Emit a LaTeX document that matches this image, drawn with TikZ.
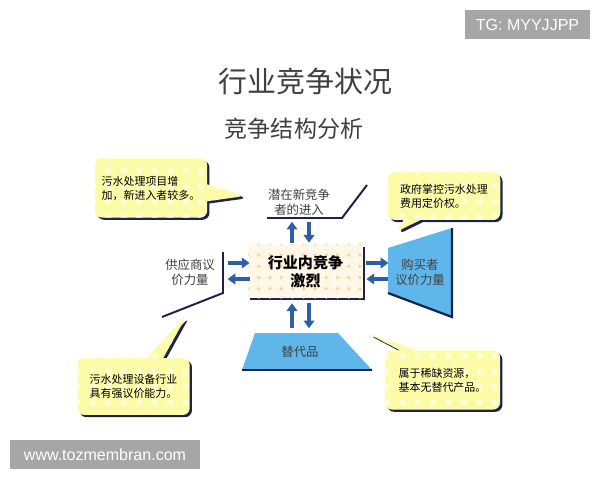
\documentclass[tikz,border=0pt]{standalone}
\usepackage{fontspec}
\newfontfamily\cjk{Noto Sans CJK SC}
\newfontfamily\wmfont{Liberation Sans}
\usetikzlibrary{arrows.meta,shapes.callouts,shadows,patterns.meta}
\definecolor{skyfill}{RGB}{95,182,234}
\definecolor{navyedge}{RGB}{25,35,75}
\definecolor{notefill}{RGB}{252,252,168}
\definecolor{notedot}{RGB}{255,255,212}
\definecolor{corefill}{RGB}{255,247,232}
\definecolor{coredot}{RGB}{247,212,160}
\definecolor{flowblue}{RGB}{45,95,165}
\definecolor{markgray}{RGB}{166,166,166}

\begin{document}
\begin{tikzpicture}[
    x=0.025cm, y=-0.025cm,
    note/.style={rectangle callout, rounded corners=5pt, callout pointer width=12pt,
      minimum width=80pt, minimum height=42pt, inner sep=3pt, align=left,
      drop shadow={shadow xshift=1.6pt, shadow yshift=-1.6pt, fill=navyedge, opacity=1},
      preaction={fill=notefill}, pattern={Dots[distance=11pt, radius=2.4pt]},
      pattern color=notedot, font=\cjk\fontsize{7.8}{10}\selectfont},
    core/.style={rectangle, minimum width=82pt, minimum height=37.7pt, align=center,
      drop shadow={shadow xshift=1.3pt, shadow yshift=-1.3pt, fill=navyedge, opacity=1},
      preaction={fill=corefill}, pattern={Dots[distance=8pt, radius=1.3pt]},
      pattern color=coredot, font=\cjk\bfseries\fontsize{10.7}{13}\selectfont},
    sidetext/.style={align=center, text=black!75, font=\cjk\fontsize{8.8}{10.7}\selectfont},
    edgeline/.style={draw=navyedge, line width=1.4pt},
    arrow/.style={-{Triangle[length=5.5pt, width=7.5pt]}, line width=2.6pt, draw=flowblue},
    tagbox/.style={fill=markgray, text=white, minimum height=20.6pt,
      font=\wmfont\fontsize{11.4}{13}\selectfont}
  ]
    \path[use as bounding box, fill=white] (0,0) rectangle (600,480);

    \node[font=\cjk\fontsize{20.6}{24}\selectfont, text=black!75] (title) at (305.5,81) {行业竞争状况};
    \node[font=\cjk\fontsize{16.4}{20}\selectfont, text=black!75] (subtitle) at (294,129) {竞争结构分析};

    \fill[skyfill] (388,248) -- (452,228) -- (452,317) -- (388,293) -- cycle;
    \draw[navyedge, line width=1.6pt] (452,228) -- (452,317) -- (388,293);
    \fill[skyfill] (255,333) -- (338,333) -- (372,370) -- (242,370) -- cycle;
    \draw[navyedge, line width=2pt] (242,370) -- (372,370);
    \draw[edgeline] (267,218) -- (342,218) -- (367,185);
    \draw[edgeline] (223,252) -- (223,293) -- (162,317);

    \node[core] (rivalry) at (305.5,271.5) {行业内竞争\\激烈};
    \node[sidetext] (entrant) at (299,202) {潜在新竞争\\者的进入};
    \node[sidetext] (supplier) at (190,272) {供应商议\\价力量};
    \node[sidetext] (buyer) at (420,272) {购买者\\议价力量};
    \node[sidetext] (substitute) at (300,352) {替代品};

    \node[note, callout absolute pointer={(245,196)}] (newentry) at (151,188) {污水处理项目增\\加，新进入者较多。};
    \node[note, minimum height=34pt, callout absolute pointer={(396,232)}] (pricing) at (444,196) {政府掌控污水处理\\费用定价权。};
    \node[note, minimum height=40.5pt, callout absolute pointer={(187,315)}] (equipment) at (133.5,386.5) {污水处理设备行业\\具有强议价能力。};
    \node[note, minimum width=82pt, callout absolute pointer={(367,333)}] (scarce) at (442.5,380) {属于稀缺资源，\\基本无替代产品。};

    \draw[arrow] ([shift={(-13.5,-2)}]rivalry.north) -- ([shift={(-13.5,-23)}]rivalry.north);
    \draw[arrow] ([shift={(3.5,-23)}]rivalry.north) -- ([shift={(3.5,-2)}]rivalry.north);
    \draw[arrow] ([shift={(-13.5,30)}]rivalry.south) -- ([shift={(-13.5,5)}]rivalry.south);
    \draw[arrow] ([shift={(3.5,5)}]rivalry.south) -- ([shift={(3.5,30)}]rivalry.south);
    \draw[arrow] ([shift={(-20,-8.5)}]rivalry.west) -- ([shift={(2,-8.5)}]rivalry.west);
    \draw[arrow] ([shift={(2,7.5)}]rivalry.west) -- ([shift={(-20,7.5)}]rivalry.west);
    \draw[arrow] ([shift={(3,-8.5)}]rivalry.east) -- ([shift={(25,-8.5)}]rivalry.east);
    \draw[arrow] ([shift={(25,7.5)}]rivalry.east) -- ([shift={(3,7.5)}]rivalry.east);

    \node[tagbox, minimum width=88.9pt] (tgmark) at (527.5,24.5) {TG: MYYJJPP};
    \node[tagbox, minimum width=135.1pt] (webmark) at (105,454.5) {www.tozmembran.com};
  \end{tikzpicture}
\end{document}
